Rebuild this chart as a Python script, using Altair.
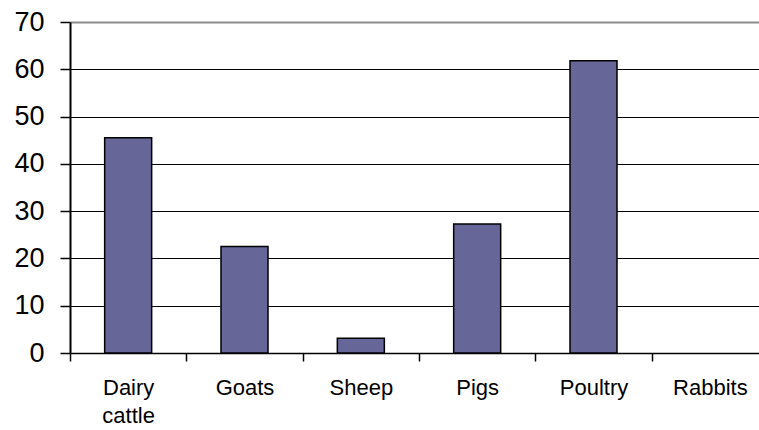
import altair as alt
import pandas as pd

categories = ["Dairy cattle", "Goats", "Sheep", "Pigs", "Poultry", "Rabbits"]
values = [45.5, 22.5, 3.1, 27.3, 61.8, 0]
y_ticks = [0, 10, 20, 30, 40, 50, 60, 70]

df = pd.DataFrame({"category": categories, "value": values})

chart = alt.Chart(df).mark_bar(
    width=47, color="#666699", stroke="#000000", strokeWidth=1.5
).encode(
    x=alt.X(
        "category:N",
        sort=categories,
        title=None,
        scale=alt.Scale(range=[0, 698], paddingInner=0, paddingOuter=0),
        axis=alt.Axis(
            labelAngle=0,
            labelExpr="split(datum.label, ' ')",
            labelFont="Liberation Sans",
            labelFontSize=22,
            labelColor="#000000",
            labelLineHeight=28,
            labelPadding=16,
            labelBaseline="top",
            tickBand="extent",
            tickSize=8,
            tickColor="#000000",
            tickWidth=1.5,
            domainColor="#000000",
            domainWidth=1.5,
            grid=False,
        ),
    ),
    y=alt.Y(
        "value:Q",
        title=None,
        scale=alt.Scale(domain=[0, 70], nice=False),
        axis=alt.Axis(
            values=y_ticks,
            labelFont="Liberation Sans",
            labelFontSize=27,
            labelColor="#000000",
            labelPadding=16,
            tickSize=10,
            tickColor="#000000",
            tickWidth=1.5,
            domainColor="#000000",
            domainWidth=2,
            grid=True,
            gridColor={"condition": {"test": "datum.value === 70", "value": "#8c8c8c"}, "value": "#000000"},
            gridWidth={"condition": {"test": "datum.value === 70", "value": 2}, "value": 1},
            gridOpacity=1,
        ),
    ),
    opacity=alt.condition("datum.value > 0", alt.value(1), alt.value(0)),
).properties(
    width=689,
    height=331,
    autosize=alt.AutoSizeParams(type="none"),
    padding={"left": 70, "top": 22, "right": 0, "bottom": 77},
).configure_view(stroke=None).configure(background="white")

chart.save("out.html", embed_options={"renderer": "svg", "actions": False})
